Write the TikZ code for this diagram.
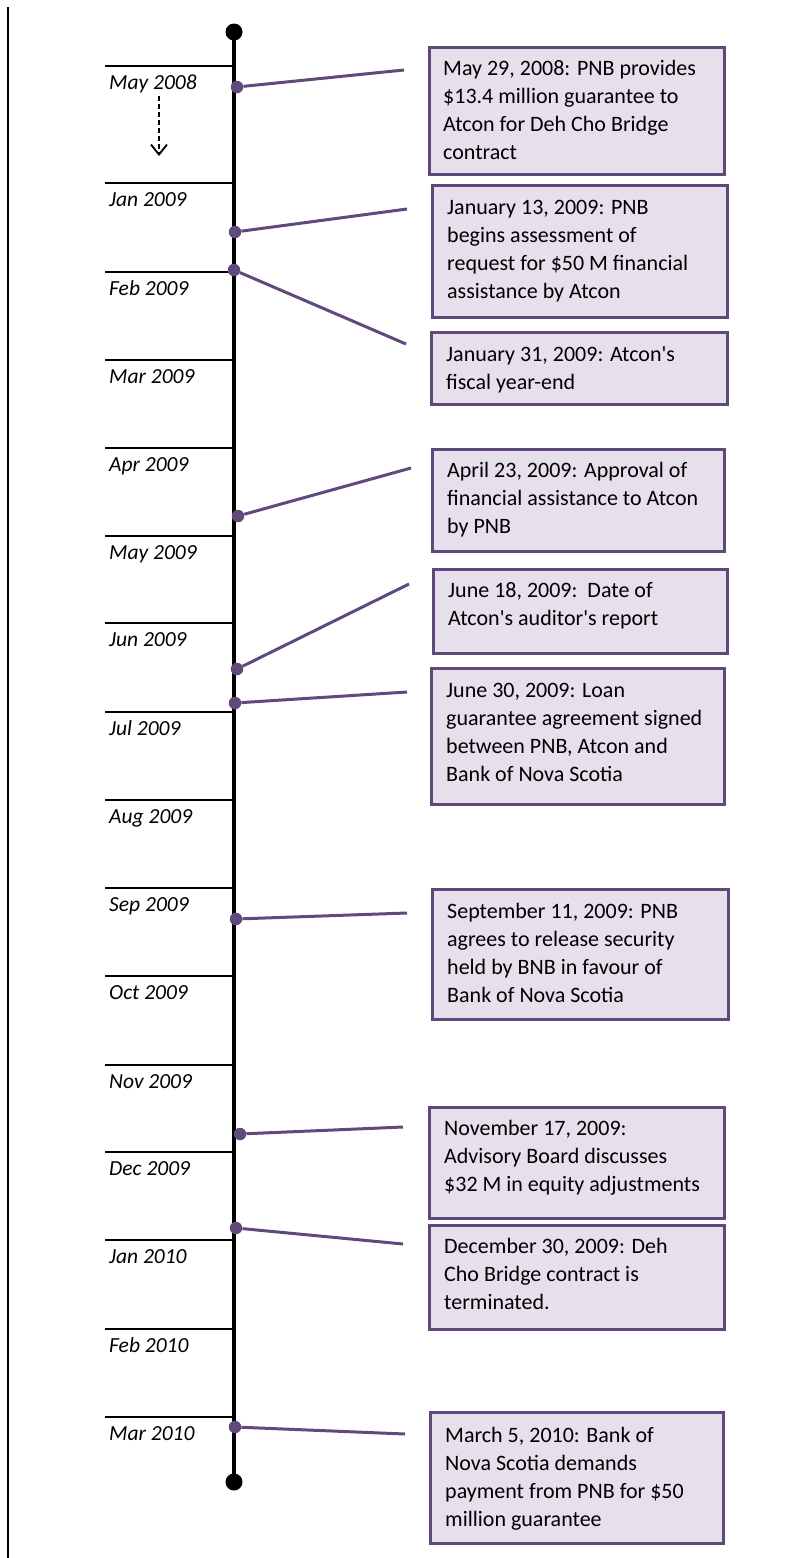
\documentclass[tikz,border=0pt]{standalone}
\usepackage{fontspec}
\setmainfont{Carlito}
\usetikzlibrary{arrows.meta}
\definecolor{tlpurple}{HTML}{604A7B}
\definecolor{boxfill}{HTML}{E5E0EC}
\definecolor{boxline}{HTML}{5F497A}
\newcommand\evlines[1]{\parbox[t]{275pt}{\raggedright #1}}
\begin{document}
\begin{tikzpicture}[x=1pt,y=-1pt,
  monthtick/.style={line width=2pt},
  monthlab/.style={anchor=base west, inner sep=0pt, font=\fontsize{21.5}{26}\selectfont\itshape},
  evbox/.style={draw=boxline, line width=3pt, fill=boxfill, anchor=north west, inner sep=0pt},
  evtext/.style={anchor=base west, inner sep=0pt, font=\fontsize{22}{28}\selectfont},
  evdot/.style={circle, fill=tlpurple, inner sep=0pt, minimum size=12.5pt},
  enddot/.style={circle, fill=black, inner sep=0pt, minimum size=17pt},
  conn/.style={tlpurple, line width=3pt}]
\useasboundingbox (0,0) rectangle (811,1558);

% left border
\draw[line width=2.5pt] (8,7) -- (8,1558);

% timeline
\node[enddot] (top) at (234,32) {};
\node[enddot] (bot) at (234,1482) {};
\draw[line width=4.5pt] (top.center) -- (bot.center);

% month ticks and labels
\foreach \ty/\txt in {66/May 2008,183/Jan 2009,272/Feb 2009,360/Mar 2009,448/Apr 2009,536/May 2009,623/Jun 2009,712/Jul 2009,800/Aug 2009,888/Sep 2009,976/Oct 2009,1065/Nov 2009,1152/Dec 2009,1240/Jan 2010,1329/Feb 2010,1417/Mar 2010}{
  \draw[monthtick] (105,\ty) -- (233,\ty);
  \node[monthlab] at (109,\ty+23) {\txt};
}

% dashed arrow
\coordinate (arrS) at (159,96);
\coordinate (arrE) at (159,156);
\draw[dashed, dash pattern=on 5pt off 3pt, line width=1.8pt, -{Straight Barb[length=10pt,width=16pt,line width=1.8pt]}] (arrS) -- (arrE);

% boxes
\node[evbox, minimum width=295pt, minimum height=127pt] (b1) at (428,46) {};
\node[evtext] (t1) at ([xshift=15pt,yshift=-29pt]b1.north west) {\evlines{May 29, 2008: PNB provides\\\$13.4 million guarantee to\\Atcon for Deh Cho Bridge\\contract}};

\node[evbox, minimum width=295pt, minimum height=132pt] (b2) at (431,184) {};
\node[evtext] (t2) at ([xshift=16pt,yshift=-30pt]b2.north west) {\evlines{January 13, 2009: PNB\\begins assessment of\\request for \$50 M financial\\assistance by Atcon}};

\node[evbox, minimum width=296pt, minimum height=72pt] (b3) at (430,331) {};
\node[evtext] (t3) at ([xshift=16pt,yshift=-30pt]b3.north west) {\evlines{January 31, 2009: Atcon\textquotesingle s\\fiscal year-end}};

\node[evbox, minimum width=292pt, minimum height=102pt] (b4) at (431,448) {};
\node[evtext] (t4) at ([xshift=16pt,yshift=-29pt]b4.north west) {\evlines{April 23, 2009: Approval of\\financial assistance to Atcon\\by PNB}};

\node[evbox, minimum width=294pt, minimum height=84pt] (b5) at (432,568) {};
\node[evtext] (t5) at ([xshift=16pt,yshift=-29pt]b5.north west) {\evlines{June 18, 2009:\ \ Date of\\Atcon\textquotesingle s auditor\textquotesingle s report}};

\node[evbox, minimum width=293pt, minimum height=136pt] (b6) at (430,667) {};
\node[evtext] (t6) at ([xshift=16pt,yshift=-30pt]b6.north west) {\evlines{June 30, 2009: Loan\\guarantee agreement signed\\between PNB, Atcon and\\Bank of Nova Scotia}};

\node[evbox, minimum width=296pt, minimum height=130pt] (b7) at (431,888) {};
\node[evtext] (t7) at ([xshift=16pt,yshift=-30pt]b7.north west) {\evlines{September 11, 2009: PNB\\agrees to release security\\held by BNB in favour of\\Bank of Nova Scotia}};

\node[evbox, minimum width=295pt, minimum height=111pt] (b8) at (428,1106) {};
\node[evtext] (t8) at ([xshift=16pt,yshift=-29pt]b8.north west) {\evlines{November 17, 2009:\\Advisory Board discusses\\\$32 M in equity adjustments}};

\node[evbox, minimum width=295pt, minimum height=104pt] (b9) at (428,1224) {};
\node[evtext] (t9) at ([xshift=16pt,yshift=-29pt]b9.north west) {\evlines{December 30, 2009: Deh\\Cho Bridge contract is\\terminated.}};

\node[evbox, minimum width=293pt, minimum height=131pt] (b10) at (429,1411) {};
\node[evtext] (t10) at ([xshift=16pt,yshift=-31pt]b10.north west) {\evlines{March 5, 2010: Bank of\\Nova Scotia demands\\payment from PNB for \$50\\million guarantee}};

% connector dots and free ends
\node[evdot] (d1) at (237,87) {};    \coordinate (e1) at (404,70);
\node[evdot] (d2) at (235,232) {};   \coordinate (e2) at (407,209);
\node[evdot] (d3) at (234,270) {};   \coordinate (e3) at (406,344);
\node[evdot] (d4) at (238,516) {};   \coordinate (e4) at (411,468);
\node[evdot] (d5) at (237,669) {};   \coordinate (e5) at (409,584);
\node[evdot] (d6) at (235,703) {};   \coordinate (e6) at (407,692);
\node[evdot] (d7) at (236,919) {};   \coordinate (e7) at (407,913);
\node[evdot] (d8) at (240,1134) {};  \coordinate (e8) at (403,1127);
\node[evdot] (d9) at (236,1228) {};  \coordinate (e9) at (403,1244);
\node[evdot] (d10) at (235,1427) {}; \coordinate (e10) at (405,1434);

\foreach \i in {1,...,10}{
  \draw[conn] (d\i) -- (e\i);
}
\end{tikzpicture}
\end{document}
